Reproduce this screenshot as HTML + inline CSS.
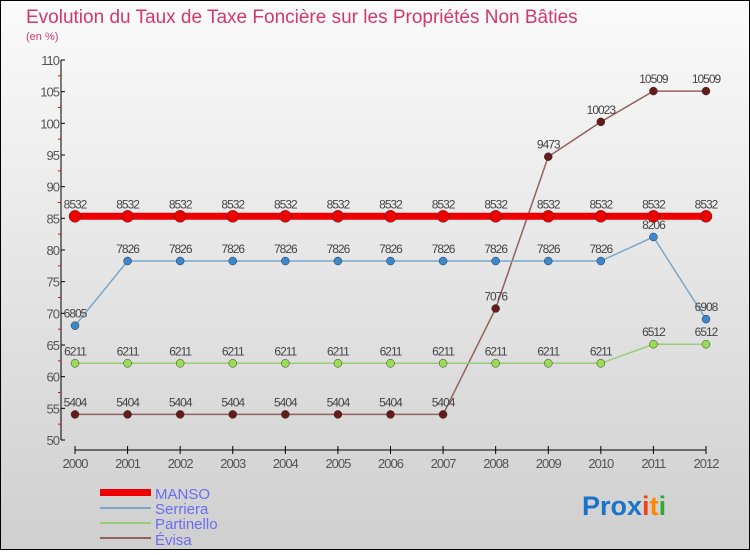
<!DOCTYPE html>
<html><head><meta charset="utf-8"><style>
html,body{margin:0;padding:0}
body{width:750px;height:550px;overflow:hidden;font-family:"Liberation Sans",sans-serif}
</style></head><body>
<svg width="750" height="550" xmlns="http://www.w3.org/2000/svg">
<defs><linearGradient id="bg" x1="0" y1="0" x2="0" y2="1"><stop offset="0" stop-color="#fbfbfb"/><stop offset="1" stop-color="#cfcfcf"/></linearGradient></defs>
<rect x="0.5" y="0.5" width="749" height="549" fill="url(#bg)" stroke="#000"/>
<text x="26" y="23" font-size="19" fill="#d2386a">Evolution du Taux de Taxe Foncière sur les Propriétés Non Bâties</text>
<text x="26" y="40" font-size="11" fill="#d2386a">(en %)</text>
<g id="axes"></g><g id="series"></g>
<g>
<rect x="100" y="489" width="51" height="7" fill="#ee0000"/>
<text x="155" y="499" font-size="15" fill="#6b6bf0">MANSO</text>
<line x1="100" y1="508" x2="151" y2="508" stroke="#7aa6c8" stroke-width="2"/>
<text x="155" y="514" font-size="15" fill="#6b6bf0">Serriera</text>
<line x1="100" y1="523" x2="151" y2="523" stroke="#99cc77" stroke-width="2"/>
<text x="155" y="529" font-size="15" fill="#6b6bf0">Partinello</text>
<line x1="100" y1="538" x2="151" y2="538" stroke="#946060" stroke-width="2"/>
<text x="155" y="545" font-size="15" fill="#6b6bf0">Évisa</text>
</g>
<text x="582" y="515" font-size="27" font-weight="bold"><tspan fill="#1a74cc">Pro</tspan><tspan fill="#1a74cc">x</tspan><tspan fill="#ee4411">i</tspan><tspan fill="#ff8800">t</tspan><tspan fill="#33aa33">i</tspan></text>
</svg>
<script>
const years=["2000","2001","2002","2003","2004","2005","2006","2007","2008","2009","2010","2011","2012"];
const yTicks=[50,55,60,65,70,75,80,85,90,95,100,105,110];
const manso=[85.32,85.32,85.32,85.32,85.32,85.32,85.32,85.32,85.32,85.32,85.32,85.32,85.32];
const serriera=[68.05,78.26,78.26,78.26,78.26,78.26,78.26,78.26,78.26,78.26,78.26,82.06,69.08];
const partinello=[62.11,62.11,62.11,62.11,62.11,62.11,62.11,62.11,62.11,62.11,62.11,65.12,65.12];
const evisa=[54.04,54.04,54.04,54.04,54.04,54.04,54.04,54.04,70.76,94.73,100.23,105.09,105.09];
const NS="http://www.w3.org/2000/svg";
const X=i=>75+i*(706-75)/(years.length-1);
const Y=v=>440-(v-50)*(380/60);
function mk(t,a,p){const e=document.createElementNS(NS,t);for(const k in a)e.setAttribute(k,a[k]);p.appendChild(e);return e;}
const ax=document.getElementById('axes');
let l=mk('line',{x1:61,y1:60,x2:61,y2:440,stroke:'#000'},ax);


l=mk('line',{x1:75,y1:450,x2:706,y2:450,stroke:'#000'},ax);


yTicks.forEach((v,i)=>{
  mk('line',{x1:61,y1:Y(v),x2:65,y2:Y(v),stroke:'#000'},ax);
  if(i<yTicks.length-1)mk('line',{x1:58,y1:Y(v+2.5),x2:61,y2:Y(v+2.5),stroke:'#f00'},ax);
  const t=mk('text',{x:59,y:Y(v)+5,'font-size':13,fill:'#555','text-anchor':'end','letter-spacing':'-1'},ax);
  t.textContent=v;
  
  
});
years.forEach((y,i)=>{
  mk('line',{x1:X(i),y1:446,x2:X(i),y2:454,stroke:'#000'},ax);
  const t=mk('text',{x:X(i),y:468,'font-size':13,fill:'#555','text-anchor':'middle','letter-spacing':'-1'},ax);
  t.textContent=y;
  
  
});
const sg=document.getElementById('series');
function series(data,name,color,lw,r,dot){
  const g=mk('g',{},sg);
  
  
  const p=mk('polyline',{points:data.map((v,i)=>X(i)+','+Y(v)).join(' '),fill:'none',stroke:color,'stroke-width':lw},g);
  
  
  data.forEach((v,i)=>{
    const c=mk('circle',{cx:X(i),cy:Y(v),r:r,fill:dot,stroke:'#333','stroke-width':0.5},g);
    
    
    const t=mk('text',{x:X(i),y:Y(v)-8,'font-size':12,fill:'#444','text-anchor':'middle','letter-spacing':'-1'},g);
    t.textContent=v.toFixed(2).replace('.','');
    
    
  });
}
series(evisa,'evisa','#946060',1.5,4,'#661a1a');
series(partinello,'partinello','#99cc77',1.5,4,'#99dd55');
series(serriera,'serriera','#7aa6c8',1.5,4,'#3b88cc');
series(manso,'manso','#ee0000',7,6,'#ee0000');
</script>
</body></html>
